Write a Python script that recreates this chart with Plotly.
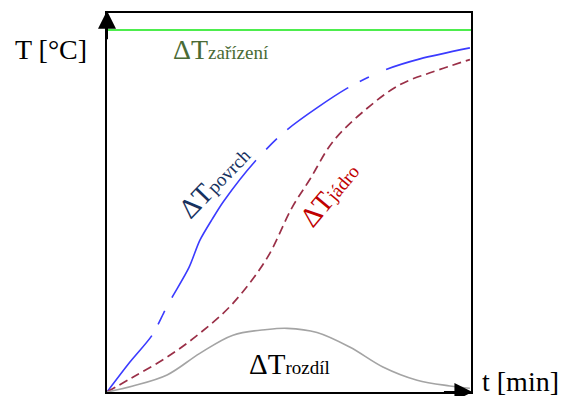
import plotly.graph_objects as go

# time axis (0..100 = relative time) and temperature (0..100 = relative)
t_povrch = [0, 6.3, 12.4, 15.9, 17.9, 22.5, 25.5, 28.9, 32.1, 40.7, 49.2, 65.9, 76.4, 86.0, 99.7]
T_povrch = [0, 7.9, 15.0, 21.5, 25.0, 32.8, 40.0, 45.6, 50.4, 60.9, 69.0, 80.1, 85.0, 87.9, 90.8]

t_jadro = [0, 7.1, 16.5, 25.5, 34.6, 44.0, 50.8, 55.8, 62.1, 71.4, 80.5, 89.6, 99.7]
T_jadro = [0, 3.9, 9.2, 15.5, 23.4, 35.4, 48.6, 56.2, 66.1, 74.8, 81.1, 84.5, 87.7]

t_rozdil = [0, 7.1, 16.5, 25.5, 34.6, 44.0, 49.5, 57.7, 66.8, 75.8, 85.2, 94.2, 99.7]
T_rozdil = [0, 1.6, 4.5, 10.2, 15.0, 16.5, 16.8, 15.7, 11.8, 6.6, 3.1, 1.6, 1.0]

t_zarizeni = [0, 100]
T_zarizeni = [95.5, 95.5]

FONT = "Liberation Serif"

fig = go.Figure()
fig.add_trace(go.Scatter(x=t_zarizeni, y=T_zarizeni, mode="lines",
                         line=dict(color="#4ded4d", width=2)))
fig.add_trace(go.Scatter(x=t_povrch, y=T_povrch, mode="lines",
                         line=dict(color="#3b3bff", width=1.6, shape="spline", smoothing=0.8,
                                   dash="72px,13px,15px,15px,162px,15px,15px,14px,74px,13px,10px,19px,300px")))
fig.add_trace(go.Scatter(x=t_jadro, y=T_jadro, mode="lines",
                         line=dict(color="#9a2f47", width=1.7, shape="spline", dash="9px,5px")))
fig.add_trace(go.Scatter(x=t_rozdil, y=T_rozdil, mode="lines",
                         line=dict(color="#a4a4a4", width=1.6, shape="spline")))


def lab(main, sub):
    return (main + "<span style=\"font-size:19px;font-family:'Liberation Serif',serif\">"
            + sub + '</span>')


annotations = [
    dict(text="T [°C]", xref="paper", yref="paper", x=-0.154, y=0.905,
         xanchor="center", yanchor="middle",
         font=dict(size=28, color="black", family=FONT), showarrow=False),
    dict(text="t [min]", xref="paper", yref="paper", x=1.137, y=0.028,
         xanchor="center", yanchor="middle",
         font=dict(size=28, color="black", family=FONT), showarrow=False),
    dict(text=lab("ΔT", "zařízení"), x=17.6, y=90.5, xanchor="left", yanchor="middle",
         font=dict(size=28, color="#4a6b35", family=FONT), showarrow=False),
    dict(text=lab("ΔT", "rozdíl"), x=38.4, y=7.5, xanchor="left", yanchor="middle",
         font=dict(size=29, color="black", family=FONT), showarrow=False),
    dict(text=lab("ΔT", "povrch"), x=29.5, y=55.6, textangle=-46,
         xanchor="center", yanchor="middle",
         font=dict(size=28, color="#17325f", family=FONT), showarrow=False),
    dict(text=lab("ΔT", "jádro"), x=61.0, y=52.2, textangle=-50,
         xanchor="center", yanchor="middle",
         font=dict(size=28, color="#c00000", family=FONT), showarrow=False),
    # axis arrows
    dict(text="", xref="paper", yref="paper", x=0, y=1.006, ax=0, ay=30,
         showarrow=True, arrowhead=2, arrowsize=1.8, arrowwidth=2,
         arrowcolor="black", standoff=0),
    dict(text="", xref="paper", yref="paper", x=1.004, y=0, ax=-30, ay=0,
         showarrow=True, arrowhead=2, arrowsize=1.8, arrowwidth=2,
         arrowcolor="black", standoff=0),
]

axis = dict(range=[0, 100], showticklabels=False, showgrid=False, zeroline=False,
            showline=True, mirror=True, linecolor="black", linewidth=2, ticks="")

# the page body adds an 8px margin, so the figure is 8px smaller on each side
fig.update_layout(
    width=559, height=388,
    margin=dict(l=99, r=96, t=3, b=4),
    paper_bgcolor="white", plot_bgcolor="white",
    showlegend=False,
    xaxis=axis, yaxis=axis,
    annotations=annotations,
)

fig.write_html("out.html")
